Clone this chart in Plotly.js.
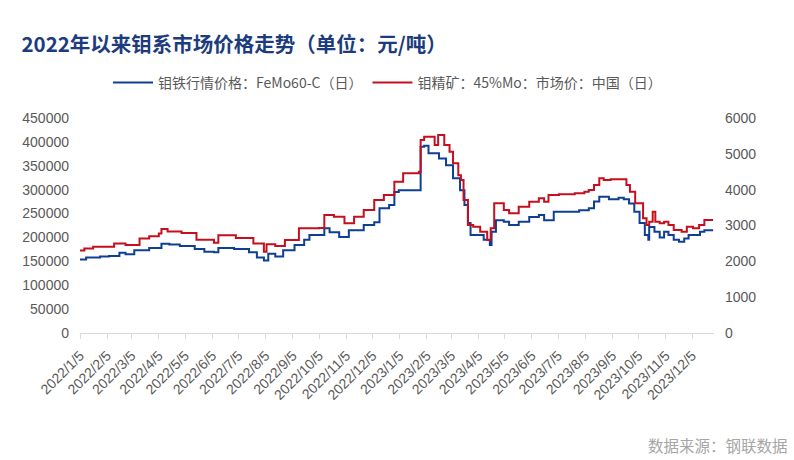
<!DOCTYPE html>
<html>
<head>
<meta charset="utf-8">
<script src="https://cdn.plot.ly/plotly-3.0.1.min.js"></script>
<style>html,body{margin:0;padding:0;background:#fff;}#chart{width:794px;height:460px;}</style>
</head>
<body>
<div id="chart"></div>
<script>
// 钼铁行情价格：FeMo60-C（日），元/吨 — left axis
const femoDates = ['2022-01-05','2022-01-12','2022-01-28','2022-02-07','2022-02-19','2022-02-26','2022-03-08','2022-03-25','2022-04-08','2022-04-17','2022-04-29','2022-05-16','2022-05-27','2022-06-07','2022-06-12','2022-06-30','2022-07-17','2022-07-26','2022-08-03','2022-08-08','2022-08-16','2022-08-25','2022-09-07','2022-09-18','2022-09-24','2022-10-11','2022-10-17','2022-10-28','2022-11-08','2022-11-25','2022-12-07','2022-12-13','2022-12-24','2022-12-30','2023-01-04','2023-01-27','2023-01-29','2023-02-02','2023-02-07','2023-02-19','2023-02-27','2023-03-07','2023-03-15','2023-03-20','2023-03-24','2023-03-27','2023-04-05','2023-04-11','2023-04-18','2023-04-20','2023-04-25','2023-05-04','2023-05-10','2023-05-21','2023-06-02','2023-06-13','2023-06-19','2023-06-30','2023-07-18','2023-07-29','2023-08-09','2023-08-15','2023-08-21','2023-09-01','2023-09-12','2023-09-18','2023-09-24','2023-09-30','2023-10-06','2023-10-12','2023-10-16','2023-10-17','2023-10-23','2023-10-29','2023-11-03','2023-11-08','2023-11-14','2023-11-20','2023-11-26','2023-12-01','2023-12-14','2023-12-19','2023-12-29'];
const femoValues = [154000,158000,160000,161000,168000,165000,173000,178000,187000,185000,182000,176000,170000,169000,178000,176000,169000,158000,152000,166000,160000,173000,184000,195000,205000,219000,211000,201000,215000,226000,232000,261000,268000,295000,299000,299000,390000,392000,376000,365000,351000,324000,299000,268000,230000,205000,205000,195000,184000,212000,236000,233000,226000,233000,243000,247000,236000,254000,254000,257000,261000,275000,285000,280000,283000,280000,271000,254000,230000,205000,195000,222000,212000,200000,212000,205000,195000,191000,198000,205000,212000,215000,215000];

// 钼精矿：45%Mo：市场价：中国（日），元/吨度 — right axis
const oreDates = ['2022-01-05','2022-01-10','2022-01-20','2022-02-07','2022-02-13','2022-02-26','2022-03-14','2022-03-25','2022-04-05','2022-04-08','2022-04-15','2022-05-01','2022-05-18','2022-06-07','2022-06-12','2022-07-02','2022-07-22','2022-08-03','2022-08-06','2022-08-16','2022-08-27','2022-09-12','2022-10-05','2022-10-11','2022-10-22','2022-11-03','2022-11-14','2022-11-25','2022-12-07','2022-12-18','2022-12-30','2023-01-09','2023-01-27','2023-01-29','2023-02-02','2023-02-11','2023-02-14','2023-02-18','2023-02-22','2023-02-25','2023-03-03','2023-03-07','2023-03-13','2023-03-16','2023-03-19','2023-03-24','2023-03-30','2023-04-07','2023-04-15','2023-04-19','2023-04-23','2023-05-04','2023-05-10','2023-05-21','2023-06-02','2023-06-13','2023-06-19','2023-06-24','2023-07-06','2023-07-24','2023-08-04','2023-08-09','2023-08-15','2023-08-21','2023-08-26','2023-09-03','2023-09-17','2023-09-21','2023-09-25','2023-10-01','2023-10-10','2023-10-14','2023-10-17','2023-10-21','2023-10-24','2023-10-29','2023-11-03','2023-11-08','2023-11-14','2023-11-23','2023-11-29','2023-12-06','2023-12-13','2023-12-19','2023-12-29'];
const oreValues = [2300,2360,2410,2410,2500,2455,2640,2700,2780,2900,2830,2790,2600,2520,2730,2650,2500,2270,2475,2430,2595,2920,2930,3290,3245,3060,3245,3430,3710,3850,4220,4456,4500,5385,5477,5477,5245,5524,5524,5245,5058,4735,4400,4270,3710,3013,2966,2826,2595,2920,3620,3430,3340,3520,3660,3760,3660,3850,3870,3900,3940,3990,4130,4316,4270,4290,4290,4130,3940,3620,3200,3013,3105,3384,3105,3061,3105,3013,2874,2826,2966,2920,3013,3153,3153];

const tickDates = ['2022-01-05','2022-02-05','2022-03-05','2022-04-05','2022-05-05','2022-06-05','2022-07-05','2022-08-05','2022-09-05','2022-10-05','2022-11-05','2022-12-05','2023-01-05','2023-02-05','2023-03-05','2023-04-05','2023-05-05','2023-06-05','2023-07-05','2023-08-05','2023-09-05','2023-10-05','2023-11-05','2023-12-05'];
const tickLabels = ['2022/1/5','2022/2/5','2022/3/5','2022/4/5','2022/5/5','2022/6/5','2022/7/5','2022/8/5','2022/9/5','2022/10/5','2022/11/5','2022/12/5','2023/1/5','2023/2/5','2023/3/5','2023/4/5','2023/5/5','2023/6/5','2023/7/5','2023/8/5','2023/9/5','2023/10/5','2023/11/5','2023/12/5'];

const seriesNames = ['钼铁行情价格：FeMo60-C（日）','钼精矿：45%Mo：市场价：中国（日）'];

const FONT = 'Liberation Sans, Arial, Noto Sans CJK SC, sans-serif';
const CJK = 'Noto Sans CJK SC, Liberation Sans, sans-serif';

const traces = [
  {x: femoDates, y: femoValues, name: seriesNames[0], type: 'scatter', mode: 'lines',
   line: {color: '#0F3F92', width: 2, shape: 'hv'}, yaxis: 'y'},
  {x: oreDates, y: oreValues, name: seriesNames[1], type: 'scatter', mode: 'lines',
   line: {color: '#C50F1E', width: 2, shape: 'hv'}, yaxis: 'y2'}
];

const layout = {
  width: 794, height: 460,
  margin: {l: 80, r: 80, t: 118, b: 127},
  paper_bgcolor: '#fff', plot_bgcolor: '#fff',
  font: {family: FONT, color: '#595959', size: 13},
  title: {text: '<b>2022年以来钼系市场价格走势（单位：元/吨）</b>',
          font: {family: CJK, size: 20.5, color: '#1C3C7C'},
          xref: 'container', yref: 'container', x: 0.027, xanchor: 'left', y: 0.902, yanchor: 'middle'},
  showlegend: true,
  legend: {orientation: 'h', x: 0.485, xanchor: 'center', y: 1.163, yanchor: 'middle',
           font: {family: CJK, size: 14, color: '#595959'},
           itemwidth: 40, tracegroupgap: 0},
  xaxis: {type: 'date', range: ['2022-01-05', '2023-12-30'],
          tickmode: 'array', tickvals: tickDates, ticktext: tickLabels, tickangle: -45,
          tickfont: {size: 14, color: '#595959'}, ticklabelstandoff: 3,
          showgrid: false, zeroline: false, showline: true, linecolor: '#D9D9D9', linewidth: 1,
          ticks: 'outside', ticklen: 5, tickcolor: '#D9D9D9'},
  yaxis: {range: [0, 450000], dtick: 50000, tick0: 0, tickformat: 'd', showgrid: false, zeroline: false,
          showline: false, ticks: '', tickfont: {size: 14, color: '#595959'}, ticklabelstandoff: 10},
  yaxis2: {range: [0, 6000], dtick: 1000, tick0: 0, tickformat: 'd', overlaying: 'y', side: 'right',
           showgrid: false, zeroline: false, showline: false, ticks: '',
           tickfont: {size: 14, color: '#595959'}, ticklabelstandoff: 10},
  annotations: [{text: '数据来源：钢联数据', xref: 'paper', yref: 'paper',
                 x: (790 - 80) / 634, y: (333 - 445) / 215, xanchor: 'right', yanchor: 'middle',
                 showarrow: false, font: {family: CJK, size: 15.5, color: '#A6A6A6'}}]
};

Plotly.newPlot('chart', traces, layout, {displayModeBar: false, staticPlot: true});
</script>
</body>
</html>
